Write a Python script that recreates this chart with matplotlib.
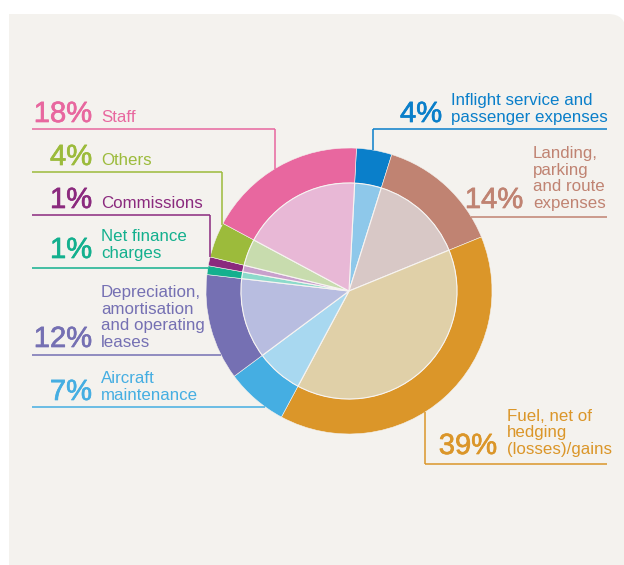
import numpy as np
import matplotlib
matplotlib.use("Agg")
import matplotlib.pyplot as plt
import matplotlib.patheffects as pe
from matplotlib.patches import FancyBboxPatch, Rectangle

plt.rcParams["font.family"] = ["Liberation Sans", "DejaVu Sans"]

# Cost breakdown, clockwise from the top of the pie
categories = [
    "Inflight service and\npassenger expenses",
    "Landing,\nparking\nand route\nexpenses",
    "Fuel, net of\nhedging\n(losses)/gains",
    "Aircraft\nmaintenance",
    "Depreciation,\namortisation\nand operating\nleases",
    "Net finance\ncharges",
    "Commissions",
    "Others",
    "Staff",
]
shares = [4, 14, 39, 7, 12, 1, 1, 4, 18]

ring_colors = ["#0a7fca", "#c08372", "#db9629", "#45aee2", "#7570b3",
               "#13b08e", "#8b2a7e", "#9cbb3b", "#e8679f"]
fill_colors = ["#8ec8ea", "#d8c8c6", "#e0d0a8", "#a8d8f0", "#b8bde0",
               "#8cdacb", "#c8a0cc", "#c8dcae", "#e8b8d6"]

W, H = 624, 565
CX, CY = 349, 291          # pie centre (px, measured from top)
R_OUT, R_IN = 143, 108
BG = "#f4f2ee"


def fy(y):
    return H - y


fig = plt.figure(figsize=(W / 100, H / 100), dpi=100)
ax = fig.add_axes([0, 0, 1, 1])

# panel behind the chart, rounded only at the top right
ax.add_patch(FancyBboxPatch((9, -40), W + 10 - 9 - 8, fy(14) + 40,
                            boxstyle="round,pad=0,rounding_size=18",
                            fc=BG, ec="none", zorder=0))
ax.add_patch(Rectangle((9, -40), 300, fy(14) + 40, fc=BG, ec="none", zorder=0))

ax.pie(shares, colors=ring_colors, radius=R_OUT, center=(CX, fy(CY)),
       startangle=87, counterclock=False,
       wedgeprops=dict(width=R_OUT - R_IN, edgecolor=BG, linewidth=0.4))
ax.pie(shares, colors=fill_colors, radius=R_IN, center=(CX, fy(CY)),
       startangle=87, counterclock=False,
       wedgeprops=dict(edgecolor="#f7f4f2", linewidth=0.8))

# label layout: percent right edge, text left edge, baseline of last line,
# leader line y, leader ends, and how the leader meets the pie
left_x, right_end = 32, 607
layout = [
    dict(px=442, tx=451, base=122, ly=129, x0=373, x1=right_end, drop="down"),
    dict(px=523, tx=533, base=208, ly=217, x0=None, x1=right_end, drop="right"),
    dict(px=497, tx=507, base=454, ly=464, x0=425, x1=right_end, drop="up"),
    dict(px=92, tx=101, base=400, ly=407, x0=left_x, x1=None, drop="left"),
    dict(px=92, tx=101, base=347, ly=355, x0=left_x, x1=None, drop="left"),
    dict(px=92, tx=101, base=258, ly=268, x0=left_x, x1=None, drop="left"),
    dict(px=92, tx=101, base=208, ly=215, x0=left_x, x1=210, drop="down"),
    dict(px=92, tx=101, base=165, ly=172, x0=left_x, x1=222, drop="down"),
    dict(px=92, tx=101, base=122, ly=129, x0=left_x, x1=275, drop="down"),
]
line_h = 16.6

for name, val, col, lay in zip(categories, shares, ring_colors, layout):
    ax.text(lay["px"], fy(lay["base"]), f"{val}%", color=col, fontsize=21,
            ha="right", va="baseline",
            path_effects=[pe.withStroke(linewidth=0.5, foreground=col)])
    lines = name.split("\n")
    for k, line in enumerate(reversed(lines)):
        ax.text(lay["tx"], fy(lay["base"] - k * line_h), line, color=col,
                fontsize=12.2, ha="left", va="baseline")

    ly = lay["ly"]
    kw = dict(color=col, lw=1.1, solid_capstyle="butt", zorder=1)
    if lay["drop"] == "left":
        xe = CX - np.sqrt(R_OUT ** 2 - (ly - CY) ** 2)
        ax.plot([lay["x0"], xe], [fy(ly), fy(ly)], **kw)
    elif lay["drop"] == "right":
        xe = CX + np.sqrt(R_OUT ** 2 - (ly - CY) ** 2)
        ax.plot([xe, lay["x1"]], [fy(ly), fy(ly)], **kw)
    elif lay["drop"] == "down":
        xv = lay["x1"] if lay["x0"] == left_x else lay["x0"]
        ye = CY - np.sqrt(R_OUT ** 2 - (xv - CX) ** 2)
        ax.plot([lay["x0"], lay["x1"]], [fy(ly), fy(ly)], **kw)
        ax.plot([xv, xv], [fy(ly), fy(ye)], **kw)
    else:
        xv = lay["x0"]
        ye = CY + np.sqrt(R_OUT ** 2 - (xv - CX) ** 2)
        ax.plot([lay["x0"], lay["x1"]], [fy(ly), fy(ly)], **kw)
        ax.plot([xv, xv], [fy(ly), fy(ye)], **kw)

ax.set_xlim(0, W)
ax.set_ylim(0, H)
ax.set_aspect("auto")
ax.axis("off")
fig.savefig("out.png", dpi=100, facecolor="white")
